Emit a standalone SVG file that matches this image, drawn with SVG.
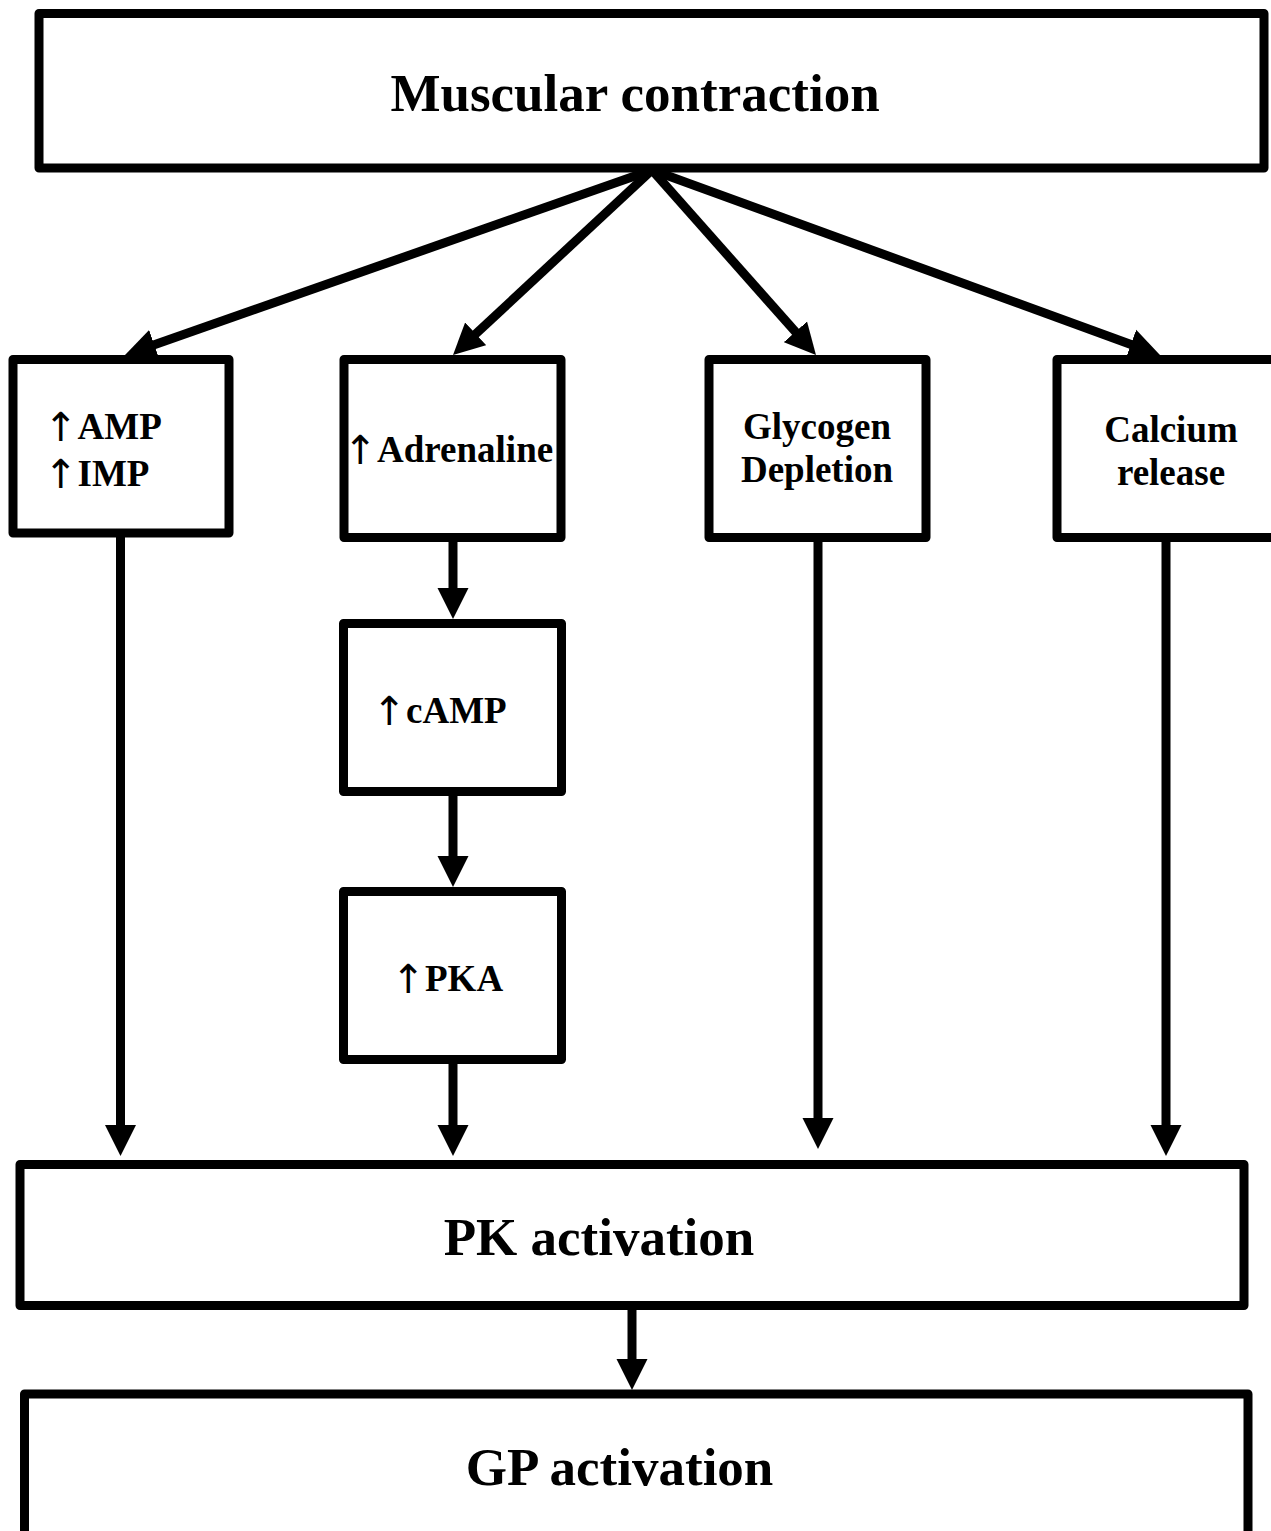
<svg xmlns="http://www.w3.org/2000/svg" width="1271" height="1531" viewBox="0 0 1271 1531">
<style>
.box{fill:#fff;stroke:#000;stroke-width:9;stroke-linejoin:round}
.conn{stroke:#000;stroke-width:9;fill:none}
.big{font-family:"Liberation Serif","Times New Roman",serif;font-weight:bold;font-size:53px;fill:#000}
.lbl{font-family:"Liberation Serif","Times New Roman",serif;font-weight:bold;font-size:37px;fill:#000}
.mid{text-anchor:middle}
.arr{font-family:"DejaVu Sans",sans-serif;font-weight:normal;font-size:40px}
</style>
<defs>
<marker id="ah" markerUnits="userSpaceOnUse" markerWidth="32" markerHeight="32" viewBox="0 0 32 32" refX="6" refY="16" orient="auto">
<path d="M0,0.5 L31,16 L0,31.5 z" fill="#000"/>
</marker>
</defs>
<rect width="1271" height="1531" fill="#fff"/>
<g id="connectors">
<line class="conn" x1="652" y1="170" x2="148.6" y2="346.7" marker-end="url(#ah)"/>
<line class="conn" x1="652" y1="170" x2="471.3" y2="338" marker-end="url(#ah)"/>
<line class="conn" x1="652" y1="170" x2="799.4" y2="336.3" marker-end="url(#ah)"/>
<line class="conn" x1="652" y1="170" x2="1136.5" y2="346.4" marker-end="url(#ah)"/>
<line class="conn" x1="120.5" y1="536" x2="120.5" y2="1131" marker-end="url(#ah)"/>
<line class="conn" x1="453" y1="541" x2="453" y2="594" marker-end="url(#ah)"/>
<line class="conn" x1="453" y1="795" x2="453" y2="862" marker-end="url(#ah)"/>
<line class="conn" x1="453" y1="1063" x2="453" y2="1131" marker-end="url(#ah)"/>
<line class="conn" x1="818" y1="541" x2="818" y2="1124" marker-end="url(#ah)"/>
<line class="conn" x1="1166" y1="541" x2="1166" y2="1131" marker-end="url(#ah)"/>
<line class="conn" x1="632" y1="1309" x2="632" y2="1365" marker-end="url(#ah)"/>
</g>
<g id="muscular">
<rect class="box" x="39" y="13.5" width="1225" height="154.5"/>
<text class="big mid" x="635" y="111">Muscular contraction</text>
</g>
<g id="amp">
<rect class="box" x="13" y="359.5" width="216" height="173.5"/>
<text class="lbl" x="44" y="441"><tspan class="arr">↑</tspan><tspan y="439">AMP</tspan></text>
<text class="lbl" x="44" y="488"><tspan class="arr">↑</tspan><tspan y="486">IMP</tspan></text>
</g>
<g id="adrenaline">
<rect class="box" x="344" y="359.5" width="217" height="178"/>
<text class="lbl" x="343.5" y="464"><tspan class="arr">↑</tspan><tspan y="462">Adrenaline</tspan></text>
</g>
<g id="glycogen">
<rect class="box" x="709" y="359.5" width="217" height="178"/>
<text class="lbl mid" x="817" y="439">Glycogen</text>
<text class="lbl mid" x="817" y="482">Depletion</text>
</g>
<g id="calcium">
<rect class="box" x="1057" y="359.5" width="228" height="178"/>
<text class="lbl mid" x="1171" y="442">Calcium</text>
<text class="lbl mid" x="1171" y="485">release</text>
</g>
<g id="camp">
<rect class="box" x="343.5" y="623.5" width="218" height="168"/>
<text class="lbl" x="372.5" y="725"><tspan class="arr">↑</tspan><tspan y="723">cAMP</tspan></text>
</g>
<g id="pka">
<rect class="box" x="343.5" y="891.5" width="218" height="168"/>
<text class="lbl" x="391.5" y="993"><tspan class="arr">↑</tspan><tspan y="991">PKA</tspan></text>
</g>
<g id="pk">
<rect class="box" x="20" y="1164.5" width="1224" height="141"/>
<text class="big mid" x="599" y="1255">PK activation</text>
</g>
<g id="gp">
<rect class="box" x="24.5" y="1394" width="1223.5" height="200"/>
<text class="big mid" x="619.5" y="1485">GP activation</text>
</g>
</svg>
